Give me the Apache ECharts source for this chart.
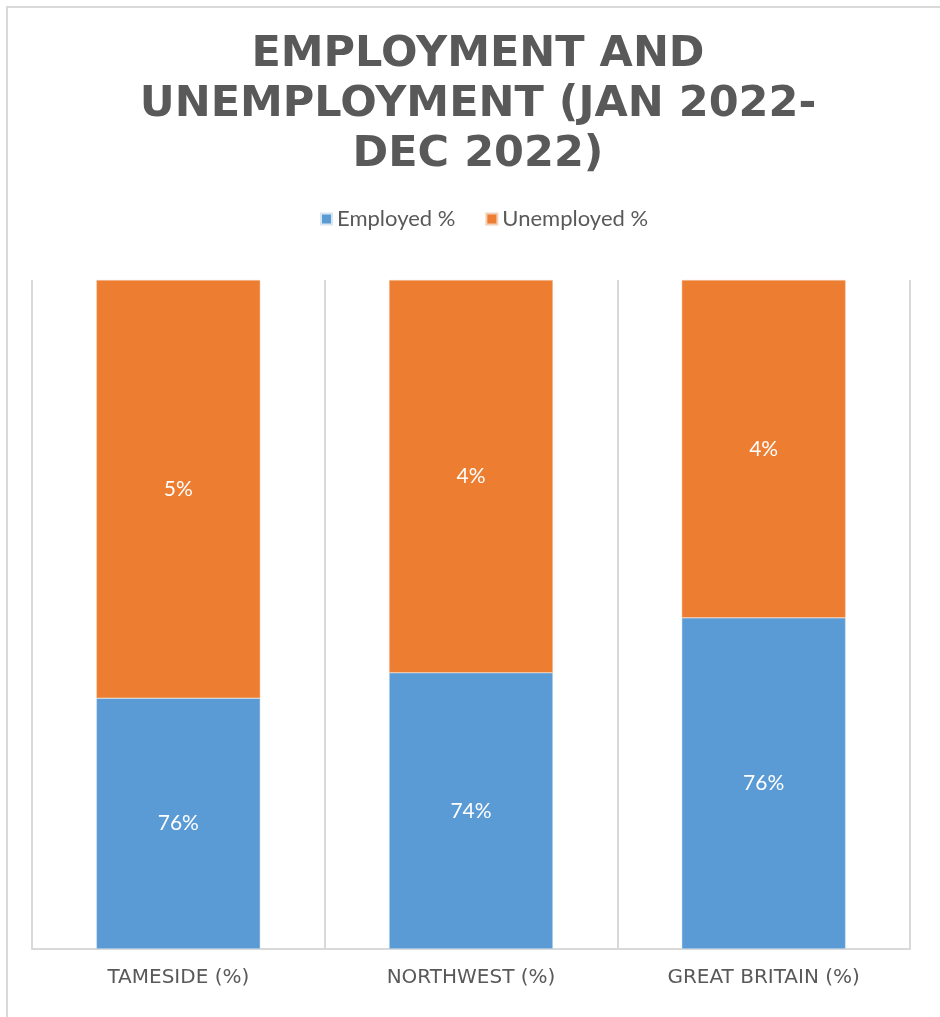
<!DOCTYPE html>
<html><head><meta charset="utf-8">
<script src="https://cdn.jsdelivr.net/npm/echarts@6/dist/echarts.min.js"></script>
<style>html,body{margin:0;padding:0;background:#fff}#c{width:940px;height:1017px}</style>
</head><body><div id="c"></div>
<script>
const categories = ['TAMESIDE (%)', 'NORTHWEST (%)', 'GREAT BRITAIN (%)'];
// bar segment shares as drawn (percent of bar height)
const employedShare = [37.5, 41.3, 49.5];
const unemployedShare = [62.5, 58.7, 50.5];
// data labels shown on the segments
const employedLabels = ['76%', '74%', '76%'];
const unemployedLabels = ['5%', '4%', '4%'];

const chart = echarts.init(document.getElementById('c'));
const font = 'Lato, "Open Sans", sans-serif';
chart.setOption({
  animation: false,
  backgroundColor: '#fff',
  title: {
    text: 'EMPLOYMENT AND\nUNEMPLOYMENT (JAN 2022-\nDEC 2022)',
    left: 478, textAlign: 'center', top: 30, padding: 0,
    textStyle: { fontFamily: '"DejaVu Sans", sans-serif', fontWeight: 'bold', fontSize: 43, lineHeight: 50, color: '#595959' }
  },
  legend: {
    top: 208, left: 320, padding: 0,
    itemWidth: 11, itemHeight: 11, itemGap: 30,
    icon: 'rect',
    textStyle: { fontFamily: font, fontSize: 22, color: '#595959' },
    data: ['Employed %', 'Unemployed %']
  },
  graphic: [{
    type: 'rect', shape: { x: 7, y: 7, width: 1200, height: 1200 },
    style: { fill: 'none', stroke: '#d9d9d9', lineWidth: 2 }, silent: true, z: -1
  }],
  grid: { left: 32, right: 30, top: 280, bottom: 68 },
  xAxis: {
    type: 'category', data: categories,
    axisLine: { lineStyle: { color: '#d9d9d9', width: 2 } },
    axisTick: { show: false },
    splitLine: { show: true, lineStyle: { color: '#d9d9d9', width: 2 } },
    axisLabel: { fontFamily: '"DejaVu Sans", sans-serif', fontSize: 20, color: '#595959', margin: 19 }
  },
  yAxis: { type: 'value', min: 0, max: 100, show: false, splitLine: { show: false } },
  series: [
    {
      name: 'Employed %', type: 'bar', stack: 'a', data: employedShare,
      barCategoryGap: '44%',
      itemStyle: { color: '#5b9bd5', borderColor: '#d9e6f2', borderWidth: 0.5 },
      label: { show: true, position: 'inside', color: '#fff', fontFamily: font, fontSize: 21,
        formatter: p => employedLabels[p.dataIndex] }
    },
    {
      name: 'Unemployed %', type: 'bar', stack: 'a', data: unemployedShare,
      barCategoryGap: '44%',
      itemStyle: { color: '#ed7d31', borderColor: '#f2d0b8', borderWidth: 0.5 },
      label: { show: true, position: 'inside', color: '#fff', fontFamily: font, fontSize: 21,
        formatter: p => unemployedLabels[p.dataIndex] }
    }
  ]
});
</script></body></html>
